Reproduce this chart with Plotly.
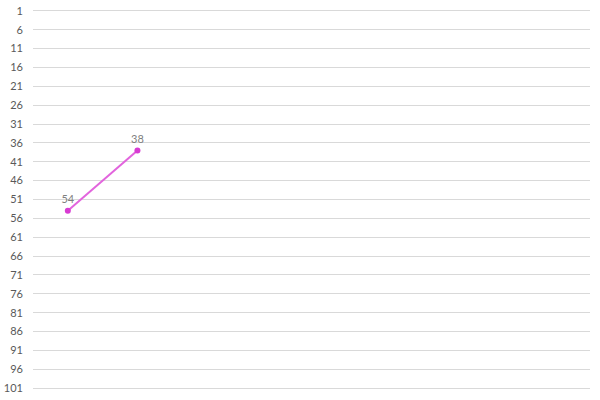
import plotly.graph_objects as go

# rank positions (lower = better), only two periods filled
periods = [1, 2]
ranks = [54, 38]
rank_ticks = list(range(1, 102, 5))

fig = go.Figure()
fig.add_trace(go.Scatter(
    x=periods,
    y=ranks,
    mode='lines+markers+text',
    text=[str(r) for r in ranks],
    textposition='top center',
    textfont=dict(family='Lato', size=11, color='#7f7f7f'),
    line=dict(color='#e264dd', width=2),
    marker=dict(color='#d83bd2', size=6),
    cliponaxis=False,
    showlegend=False,
))

fig.update_layout(
    width=600, height=400,
    margin=dict(l=33, r=10, t=7, b=8),
    plot_bgcolor='white', paper_bgcolor='white',
    font=dict(family='Lato', size=11, color='#595959'),
)
fig.update_xaxes(range=[0.5, 8.5], showgrid=False, showticklabels=False,
                 zeroline=False, showline=False, automargin=False)
fig.update_yaxes(range=[102, 0], tickvals=rank_ticks, showgrid=True,
                 gridcolor='#d9d9d9', gridwidth=1, zeroline=False,
                 ticklabelstandoff=9, automargin=False)

# drop the browser's default body margin so the figure sits at the page corner
fig.write_html("out.html", config={'displayModeBar': False},
               post_script="document.body.style.margin='0';")
